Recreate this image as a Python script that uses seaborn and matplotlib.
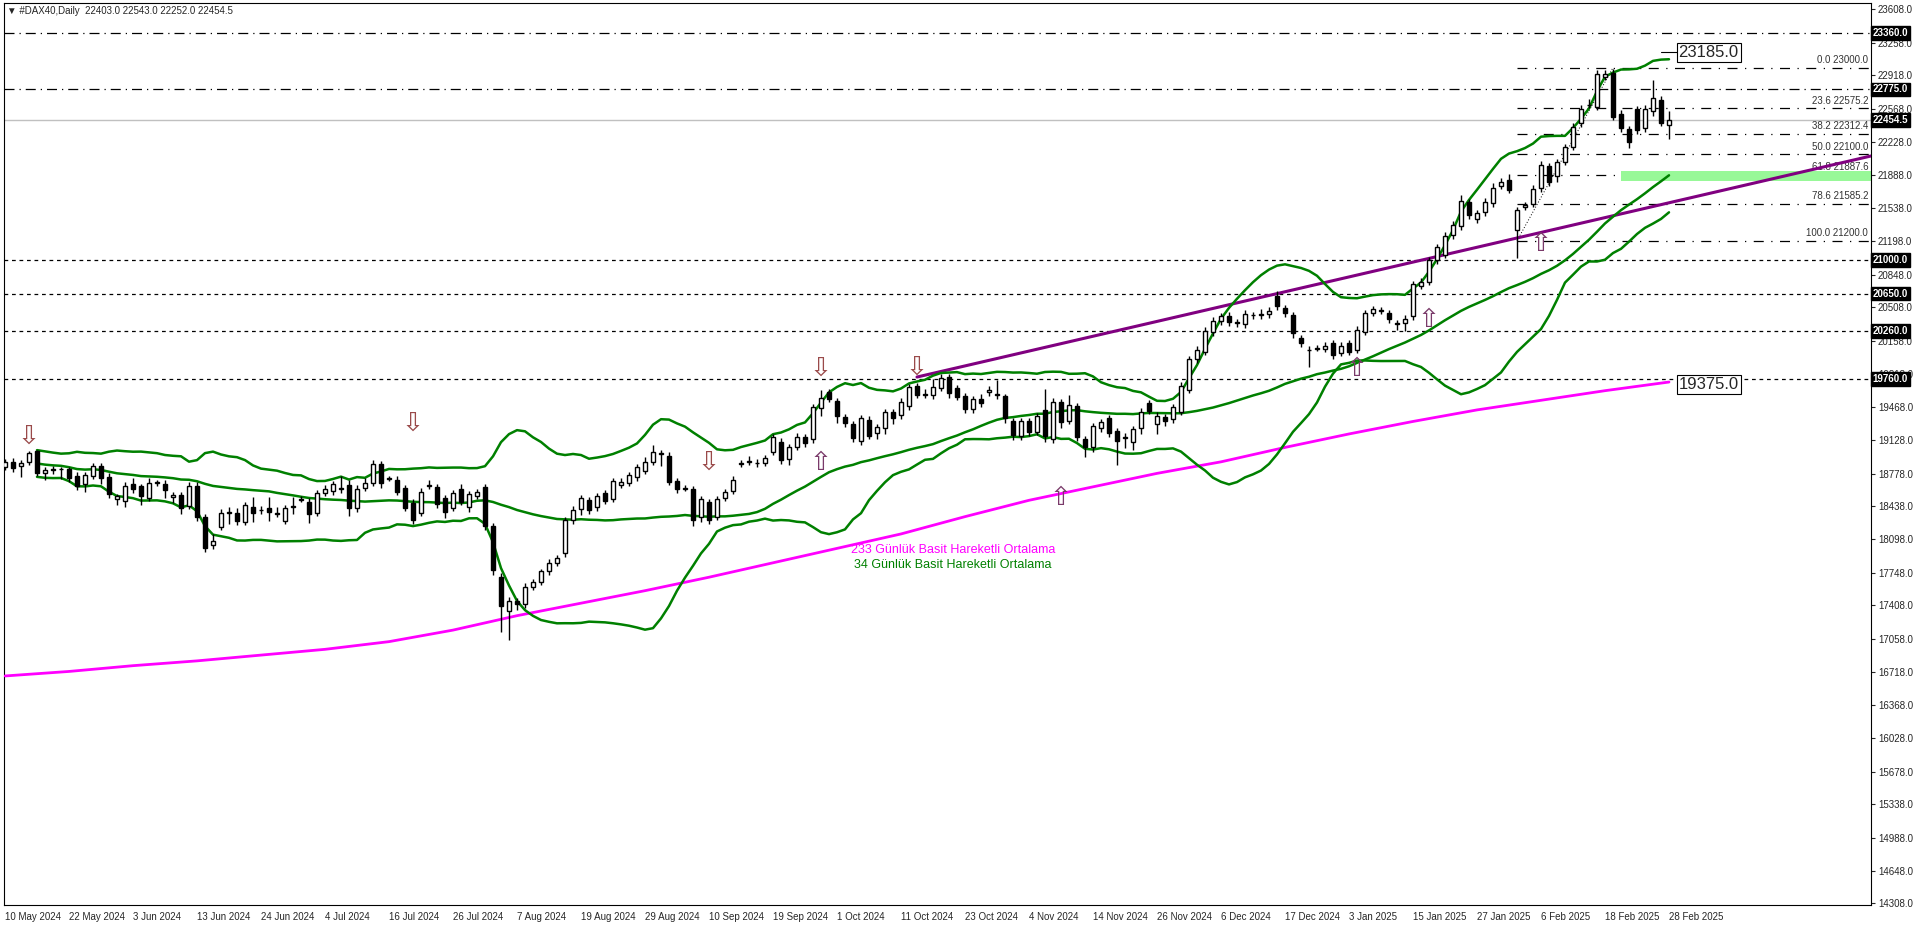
import numpy as np
import pandas as pd
import matplotlib
matplotlib.use("Agg")
import matplotlib.pyplot as plt
import seaborn as sns

# ---- data (daily bars, 10 May 2024 .. 28 Feb 2025) ----
opens = [18843, 18895, 18857, 18895, 19013, 18780, 18815, 18822, 18822, 18752,
         18666, 18756, 18857, 18745, 18513, 18496, 18669, 18648, 18520, 18678,
         18666, 18537, 18555, 18440, 18648, 18323, 18030, 18226, 18368, 18371,
         18278, 18434, 18396, 18416, 18362, 18288, 18430, 18508, 18479, 18364,
         18572, 18600, 18619, 18659, 18416, 18624, 18676, 18874, 18726, 18711,
         18624, 18475, 18364, 18653, 18635, 18520, 18416, 18614, 18427, 18548,
         18634, 18230, 17700, 17350, 17450, 17420, 17600, 17650, 17760, 17850,
         17950, 18297, 18406, 18502, 18433, 18572, 18513, 18659, 18676, 18745,
         18805, 18902, 18985, 18960, 18700, 18622, 18614, 18330, 18485, 18323,
         18520, 18600, 18880, 18898, 18886, 18884, 19005, 19110, 18926, 19058,
         19155, 19134, 19457, 19623, 19536, 19363, 19290, 19120, 19335, 19196,
         19248, 19415, 19387, 19484, 19692, 19600, 19595, 19664, 19779, 19664,
         19585, 19446, 19553, 19623, 19598, 19585, 19325, 19172, 19325, 19213,
         19439, 19134, 19519, 19328, 19481, 19134, 19058, 19255, 19352, 19221,
         19150, 19103, 19248, 19508, 19293, 19363, 19345, 19422, 19647, 19966,
         20046, 20247, 20364, 20417, 20350, 20330, 20424, 20430, 20434, 20620,
         20496, 20427, 20191, 20060, 20078, 20070, 20139, 20028, 20132, 20063,
         20254, 20444, 20468, 20444, 20347, 20347, 20417, 20732, 20767, 20999,
         21051, 21259, 21356, 21606, 21422, 21498, 21595, 21768, 21831, 21311,
         21547, 21581, 21744, 21980, 21873, 22022, 22171, 22421, 22606, 22594,
         22899, 22947, 22514, 22358, 22566, 22368, 22552, 22663, 22403]
closes = [18902, 18839, 18891, 18995, 18787, 18812, 18818, 18825, 18728, 18652,
          18763, 18860, 18728, 18565, 18548, 18648, 18621, 18548, 18683, 18680,
          18607, 18555, 18416, 18652, 18330, 18000, 18080, 18364, 18371, 18288,
          18451, 18371, 18399, 18381, 18364, 18416, 18434, 18510, 18354, 18572,
          18614, 18666, 18621, 18416, 18614, 18676, 18874, 18676, 18728, 18583,
          18420, 18295, 18590, 18655, 18461, 18381, 18572, 18485, 18565, 18590,
          18230, 17780, 17400, 17450, 17420, 17600, 17650, 17760, 17850, 17900,
          18290, 18399, 18520, 18399, 18544, 18496, 18700, 18687, 18763, 18842,
          18895, 19000, 18988, 18694, 18614, 18624, 18290, 18510, 18295, 18510,
          18583, 18711, 18884, 18901, 18884, 18936, 19155, 18919, 19051, 19162,
          19092, 19467, 19567, 19550, 19376, 19307, 19144, 19352, 19169, 19259,
          19422, 19352, 19526, 19675, 19595, 19605, 19682, 19775, 19619, 19578,
          19446, 19550, 19515, 19647, 19595, 19352, 19182, 19325, 19213, 19377,
          19169, 19526, 19318, 19488, 19155, 19058, 19276, 19311, 19203, 19120,
          19155, 19238, 19415, 19432, 19377, 19328, 19474, 19692, 19966, 20063,
          20264, 20368, 20417, 20351, 20347, 20437, 20427, 20434, 20470, 20520,
          20451, 20236, 20139, 20063, 20080, 20108, 20011, 20105, 20046, 20271,
          20444, 20486, 20472, 20382, 20333, 20382, 20749, 20767, 20999, 21138,
          21249, 21363, 21613, 21467, 21491, 21599, 21744, 21814, 21727, 21519,
          21571, 21734, 21987, 21813, 22022, 22178, 22386, 22566, 22611, 22933,
          22933, 22490, 22368, 22230, 22351, 22566, 22681, 22427, 22454.5]
wick_up = [30, 40, 25, 20, 15, 30, 35, 20, 25, 40, 35, 25, 30, 35, 20, 40, 60, 25, 45, 30,
           40, 30, 30, 35, 40, 30, 70, 50, 60, 45, 30, 100, 40, 120, 70, 40, 100, 30, 45, 30,
           40, 35, 130, 50, 40, 60, 40, 30, 25, 40, 30, 40, 40, 60, 35, 30, 35, 60, 30, 25,
           40, 30, 40, 40, 35, 40, 30, 30, 35, 30, 40, 40, 40, 30, 30, 30, 35, 40, 30, 40,
           60, 70, 30, 40, 30, 30, 30, 30, 30, 30, 30, 40, 30, 60, 40, 40, 30, 40, 30, 40,
           30, 30, 80, 30, 30, 30, 30, 30, 40, 35, 30, 30, 40, 30, 30, 50, 80, 40, 30, 30,
           30, 30, 50, 40, 150, 20, 30, 30, 30, 30, 220, 40, 30, 110, 30, 30, 30, 30, 30, 30,
           40, 30, 40, 30, 40, 30, 30, 40, 30, 40, 40, 40, 30, 40, 40, 40, 30, 60, 40, 60,
           40, 30, 30, 40, 40, 40, 30, 40, 30, 40, 40, 30, 40, 30, 30, 40, 30, 40, 30, 30,
           40, 40, 60, 30, 30, 50, 60, 40, 60, 30, 30, 40, 40, 30, 30, 30, 40, 40, 60, 40,
           40, 40, 40, 30, 30, 40, 190, 40, 90]
wick_dn = [30, 40, 110, 30, 30, 70, 40, 100, 40, 40, 80, 30, 60, 40, 60, 70, 40, 100, 30, 30,
           80, 60, 60, 30, 50, 40, 40, 40, 110, 40, 40, 100, 40, 100, 40, 30, 70, 30, 90, 30,
           30, 40, 40, 80, 40, 30, 30, 50, 30, 30, 30, 40, 30, 40, 40, 60, 30, 30, 50, 30,
           40, 60, 270, 300, 60, 40, 30, 30, 40, 30, 40, 40, 60, 40, 40, 30, 30, 30, 30, 40,
           30, 30, 130, 30, 40, 30, 60, 60, 40, 30, 30, 30, 30, 30, 40, 30, 30, 40, 60, 30,
           40, 40, 80, 30, 70, 40, 40, 50, 30, 60, 60, 60, 40, 40, 30, 40, 40, 30, 60, 30,
           40, 40, 40, 40, 40, 50, 60, 40, 40, 30, 60, 40, 70, 30, 40, 110, 60, 40, 40, 250,
           110, 80, 60, 30, 100, 60, 40, 40, 30, 40, 30, 40, 40, 40, 40, 40, 40, 40, 40, 40,
           40, 50, 40, 170, 30, 30, 40, 30, 40, 30, 40, 30, 30, 40, 60, 90, 40, 30, 30, 40,
           30, 40, 40, 40, 40, 40, 40, 30, 30, 290, 30, 30, 40, 40, 60, 30, 30, 40, 30, 40,
           30, 40, 40, 70, 40, 40, 60, 30, 150]

date_labels = ["10 May 2024", "22 May 2024", "3 Jun 2024", "13 Jun 2024", "24 Jun 2024",
               "4 Jul 2024", "16 Jul 2024", "26 Jul 2024", "7 Aug 2024", "19 Aug 2024",
               "29 Aug 2024", "10 Sep 2024", "19 Sep 2024", "1 Oct 2024", "11 Oct 2024",
               "23 Oct 2024", "4 Nov 2024", "14 Nov 2024", "26 Nov 2024", "6 Dec 2024",
               "17 Dec 2024", "3 Jan 2025", "15 Jan 2025", "27 Jan 2025", "6 Feb 2025",
               "18 Feb 2025", "28 Feb 2025"]
price_ticks = [23608, 23258, 22918, 22568, 22228, 21888, 21538, 21198, 20848, 20508, 20158,
               19818, 19468, 19128, 18778, 18438, 18098, 17748, 17408, 17058, 16718, 16368,
               16028, 15678, 15338, 14988, 14648, 14308]

# 233 SMA read every 8 bars
sma233_bar = list(range(0, 209, 8))
sma233_val = [16673, 16720, 16780, 16830, 16890, 16950, 17030, 17150, 17300, 17430,
              17560, 17700, 17850, 18000, 18150, 18330, 18500, 18640, 18780, 18900,
              19050, 19190, 19320, 19440, 19540, 19640, 19730]

level_dotted = [21000, 20650, 20260, 19760]
level_dashdot = [23360, 22775]
fib_pct = ["0.0", "23.6", "38.2", "50.0", "61.8", "78.6", "100.0"]
fib_val = [23000.0, 22575.2, 22312.4, 22100.0, 21887.6, 21585.2, 21200.0]
last_price = 22454.5

down_arrow_bar = [3, 51, 88, 102, 114]
down_arrow_px = [19158, 19297, 18888, 19870, 19883]
up_arrow_bar = [102, 132, 169, 178, 192]
up_arrow_px = [18888, 18524, 19870, 20375, 21166]

# ---- frame ----
df = pd.DataFrame({"o": opens, "c": closes})
df["bar"] = np.arange(len(df))
df["h"] = df[["o", "c"]].max(axis=1) + np.array(wick_up)
df["l"] = df[["o", "c"]].min(axis=1) - np.array(wick_dn)
df["sma34"] = df["c"].rolling(34, min_periods=5).mean()
bb = df["c"].rolling(20, min_periods=5)
df["up"] = bb.mean() + 2 * bb.std(ddof=0)
df["dn"] = bb.mean() - 2 * bb.std(ddof=0)

sns.set_style("white")
plt.rcParams["font.family"] = "Liberation Sans"
fig = plt.figure(figsize=(19.2, 9.27), dpi=100)
ax = fig.add_axes([4 / 1920, 22 / 927, 1867 / 1920, 902 / 927])
ax.set_xlim(-0.125, 233.25)
ax.set_ylim(14291, 23672)

# horizontal levels
for v in level_dotted:
    ax.axhline(v, color="black", lw=0.9, ls=(0, (3, 3)), zorder=1)
for v in level_dashdot:
    ax.axhline(v, color="black", lw=0.9, ls=(0, (8, 4, 1, 4)), zorder=1)
ax.axhline(last_price, color="#c0c0c0", lw=1.0, zorder=1)

# fibonacci
for p, v in zip(fib_pct, fib_val):
    ax.plot([189, 233.25], [v, v], color="black", lw=0.9, ls=(0, (8, 6, 1, 6)), zorder=1)
    ax.text(232.9, v + 25, f"{p} {v:.1f}", fontsize=7, ha="right", va="bottom", color="#333")
ax.plot([189, 201], [21200, 23000], color="black", lw=0.7, ls=(0, (1, 2)), zorder=2)
ax.fill_between([202, 233.25], 21824, 21924, color="#98F898", zorder=1, lw=0)

# trendline
ax.plot([114, 233.25], [19782, 22081], color="#800080", lw=2.2, zorder=3)

# moving averages
sns.lineplot(x=sma233_bar, y=sma233_val, color="#FF00FF", lw=2, ax=ax, zorder=3)
for col in ["sma34", "up", "dn"]:
    sns.lineplot(data=df, x="bar", y=col, color="#008000", lw=1.8, ax=ax, zorder=3)

# candles
ax.vlines(df["bar"], df["l"], df["h"], color="black", lw=1, zorder=4)
bull = df["c"] >= df["o"]
ax.bar(df["bar"][bull], (df["c"] - df["o"])[bull].clip(lower=8), bottom=df["o"][bull],
       width=0.62, color="white", edgecolor="black", lw=1, zorder=5)
ax.bar(df["bar"][~bull], (df["o"] - df["c"])[~bull].clip(lower=8), bottom=df["c"][~bull],
       width=0.62, color="black", edgecolor="black", lw=1, zorder=5)

# fractal arrows
for b, p in zip(down_arrow_bar, down_arrow_px):
    ax.text(b, p, "\u21e9", fontsize=19, ha="center", va="center", color="#9a4a4a",
            family="DejaVu Sans", zorder=6)
for b, p in zip(up_arrow_bar, up_arrow_px):
    ax.text(b, p, "\u21e7", fontsize=19, ha="center", va="center", color="#7a3a6a",
            family="DejaVu Sans", zorder=6)

# value boxes
ax.plot([207, 209], [23162, 23162], color="black", lw=0.8)
ax.text(209.2, 23162, "23185.0", fontsize=12, va="center", ha="left",
        bbox=dict(facecolor="white", edgecolor="black", pad=1.5, lw=0.8))
ax.text(209.2, 19700, "19375.0", fontsize=12, va="center", ha="left",
        bbox=dict(facecolor="white", edgecolor="black", pad=1.5, lw=0.8))

# legend texts
ax.text(118.5, 17950, "233 Günlük Basit Hareketli Ortalama", color="#FF00FF", fontsize=9, ha="center")
ax.text(118.5, 17800, "34 Günlük Basit Hareketli Ortalama", color="#008000", fontsize=9, ha="center")
ax.text(0.3, 23590, "\u25bc #DAX40,Daily  22403.0 22543.0 22252.0 22454.5", fontsize=7, va="center")

# axes
ax.set_xticks(range(0, 209, 8))
ax.set_xticklabels(date_labels, fontsize=7, ha="left")
ax.yaxis.tick_right()
ax.set_yticks(price_ticks)
ax.set_yticklabels([f"{t:.1f}" for t in price_ticks], fontsize=7)
ax.tick_params(axis="both", length=3, pad=2)
ax.set_xlabel("")
ax.set_ylabel("")
for s in ax.spines.values():
    s.set_color("black")
    s.set_linewidth(0.8)
ytr = ax.get_yaxis_transform()
for v in level_dotted + level_dashdot + [last_price]:
    ax.text(1.001, v, f"{v:.1f}", transform=ytr, fontsize=7, color="white", va="center",
            ha="left", fontweight="bold",
            bbox=dict(facecolor="black", edgecolor="black", pad=1.2), zorder=10)

fig.savefig("out.png", dpi=100)
